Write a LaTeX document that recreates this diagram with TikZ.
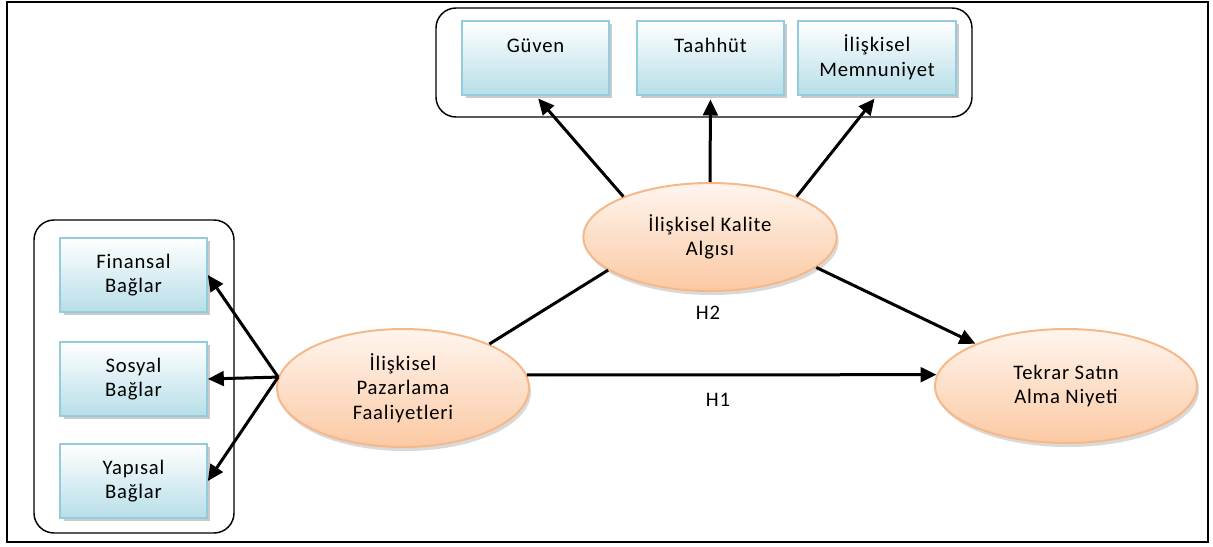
\documentclass[tikz,border=0pt]{standalone}
\usepackage{fontspec}
\setmainfont{Carlito}[LetterSpace=4]
\usetikzlibrary{positioning,shapes.geometric,shadows,arrows.meta}
\definecolor{boxedge}{HTML}{93CDDD}
\definecolor{boxlow}{HTML}{B7DEE8}
\definecolor{ovaledge}{HTML}{F7B889}
\definecolor{ovallow}{HTML}{FBC9A3}
\definecolor{ovaltop}{HTML}{FFF5EE}

\begin{document}
\begin{tikzpicture}[x=0.75pt,y=-0.75pt,
  every node/.style={font=\fontsize{15.5}{18.5}\selectfont, align=center, inner sep=0pt},
  factor/.style={rectangle, draw=boxedge, line width=1.5pt, top color=white, bottom color=boxlow,
    minimum width=110pt, minimum height=55.5pt,
    drop shadow={shadow xshift=2.5pt, shadow yshift=-2.5pt, opacity=0.35, fill=black!60}},
  latent/.style={ellipse, draw=ovaledge, line width=1.5pt, top color=ovaltop, bottom color=ovallow,
    drop shadow={shadow xshift=1.5pt, shadow yshift=-3pt, opacity=0.25, fill=black!60}},
  link/.style={line width=2.25pt, -{Triangle[length=12pt,width=11pt]}},
  group/.style={draw, line width=1.1pt, rounded corners=15pt}]
\useasboundingbox (0,0) rectangle (1213,546);
\draw [line width=1.5pt] (7,2) rectangle (1208,542);
\draw [group] (436,8) rectangle (972,117);
\draw [group] (34,220) rectangle (234,533);
\node [factor] (guven) at (535.5,57.5) {Güven\\\mbox{}};
\node [factor] (taahhut) at (710.5,57.5) {Taahhüt\\\mbox{}};
\node [factor, minimum width=118.5pt] (memnun) at (877,57.5) {İlişkisel\\Memnuniyet};
\node [factor] (finans) at (133.5,275) {Finansal\\Bağlar};
\node [factor] (sosyal) at (133.5,379) {Sosyal\\Bağlar};
\node [factor] (yapisal) at (133.5,481) {Yapısal\\Bağlar};
\node [latent, minimum width=189pt, minimum height=88.5pt] (pazar) at (403,388) {İlişkisel\\Pazarlama\\Faaliyetleri};
\node [latent, minimum width=190pt, minimum height=81pt] (kalite) at (710,237) {İlişkisel Kalite\\Algısı};
\node [latent, minimum width=196.5pt, minimum height=85.5pt] (tekrar) at (1066,386) {Tekrar Satın\\Alma Niyeti};
\node (htwo) at (708,313) {H2};
\node (hone) at (718,400) {H1};
\draw [link, shorten >=3pt] (kalite.155) -- (guven.south);
\draw [link, shorten >=3pt] (kalite.north) -- (taahhut.south);
\draw [link, shorten >=3pt] (kalite.25) -- (memnun.south);
\draw [line width=2.25pt] (pazar.27) -- (kalite.198);
\draw [link] (kalite.-16) -- (tekrar.155);
\draw [link] (pazar.6) -- (tekrar.175);
\coordinate (hub) at (pazar.175);
\draw [link] (hub) -- (finans.east);
\draw [link] (hub) -- (sosyal.east);
\draw [link] (hub) -- (yapisal.east);
\end{tikzpicture}
\end{document}
